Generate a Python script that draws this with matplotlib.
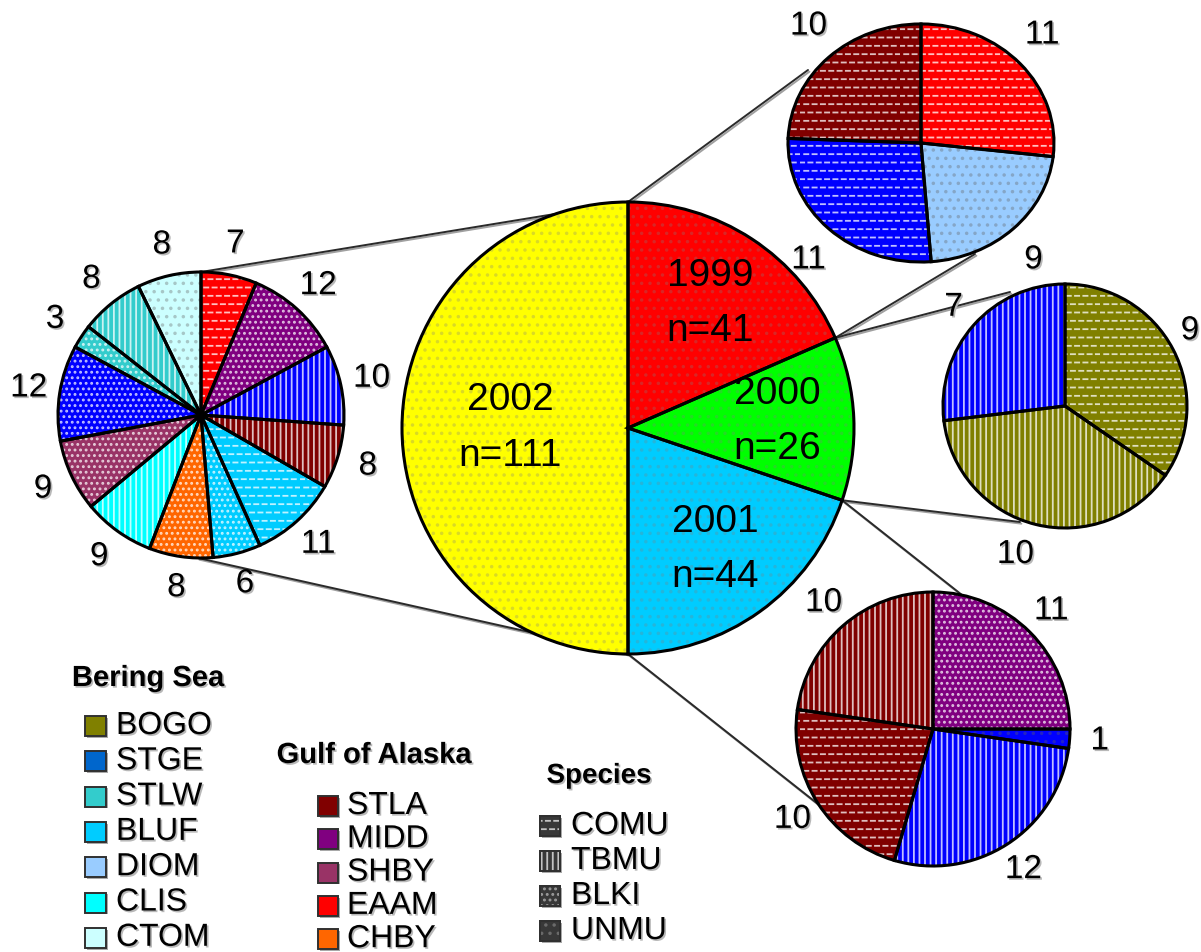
import numpy as np
import matplotlib
matplotlib.use("Agg")
import matplotlib.pyplot as plt
import matplotlib.patheffects as pe
import matplotlib.colors as mcolors
import matplotlib.hatch as mhatch
from matplotlib.patches import Rectangle
from matplotlib.transforms import Affine2D
from matplotlib.path import Path

# ------------------------------------------------------------------ data
years = ['1999', '2000', '2001', '2002']
year_n = [41, 26, 44, 111]

sites_1999 = ['EAAM', 'DIOM', 'STGE', 'STLA']
species_1999 = ['COMU', 'UNMU', 'COMU', 'COMU']
n_1999 = [11, 9, 11, 10]

sites_2000 = ['BOGO', 'BOGO', 'STGE']
species_2000 = ['COMU', 'TBMU', 'TBMU']
n_2000 = [9, 10, 7]

sites_2001 = ['MIDD', 'STGE', 'STGE', 'STLA', 'STLA']
species_2001 = ['BLKI', 'UNMU', 'TBMU', 'COMU', 'TBMU']
n_2001 = [11, 1, 12, 10, 10]

sites_2002 = ['EAAM', 'MIDD', 'STGE', 'STLA', 'BLUF', 'BLUF', 'CHBY',
              'CLIS', 'SHBY', 'STGE', 'STLW', 'STLW', 'CTOM']
species_2002 = ['COMU', 'BLKI', 'TBMU', 'TBMU', 'COMU', 'BLKI', 'BLKI',
                'TBMU', 'BLKI', 'BLKI', 'BLKI', 'TBMU', 'UNMU']
n_2002 = [7, 12, 10, 8, 11, 6, 8, 9, 9, 12, 3, 8, 8]

bering_sites = ['BOGO', 'STGE', 'STLW', 'BLUF', 'DIOM', 'CLIS', 'CTOM']
gulf_sites = ['STLA', 'MIDD', 'SHBY', 'EAAM', 'CHBY']
species_list = ['COMU', 'TBMU', 'BLKI', 'UNMU']

# ------------------------------------------------------------------ style
W, H = 1201, 952
FONT = ['Liberation Sans', 'DejaVu Sans']
plt.rcParams['font.family'] = FONT
plt.rcParams['hatch.linewidth'] = 1.3

year_colors = ['#FF0000', '#00FF00', '#00CCFF', '#FFFF00']
legend_color = {
    'BOGO': '#808000', 'STGE': '#0066CC', 'STLW': '#33CCCC', 'BLUF': '#00CCFF',
    'DIOM': '#99CCFF', 'CLIS': '#00FFFF', 'CTOM': '#CCFFFF',
    'STLA': '#800000', 'MIDD': '#800080', 'SHBY': '#993366', 'EAAM': '#FF0000',
    'CHBY': '#FF6600'}
pie_color = dict(legend_color, STGE='#0000FF')
species_hatch = {'COMU': '**', 'TBMU': '|||', 'BLKI': '...', 'UNMU': '..'}


# custom hatch: rows of short dashes (used for COMU), mapped on '*'
class DashRows(mhatch.HatchPatternBase):
    def __init__(self, hatch, density):
        self.rows = int(hatch.count('*') * density)
        self.cols = self.rows
        self.num_vertices = self.rows * self.cols * 2

    def set_vertices_and_codes(self, vertices, codes):
        k = 0
        for r in range(self.rows):
            y = (r + 0.5) / self.rows
            off = 0.5 if r % 2 else 0.0
            for c in range(self.cols):
                x0 = (c + off) / self.cols
                x1 = x0 + 0.5 / self.cols
                vertices[k] = (x0, y)
                vertices[k + 1] = (x1, y)
                codes[k] = Path.MOVETO
                codes[k + 1] = Path.LINETO
                k += 2


try:
    mhatch._hatch_types = [t for t in mhatch._hatch_types
                           if t is not mhatch.Stars] + [DashRows]
except Exception:
    species_hatch['COMU'] = '--'


def mix(c, other, t):
    a = np.array(mcolors.to_rgb(c))
    b = np.array(mcolors.to_rgb(other))
    return tuple(a * (1 - t) + b * t)


def Y(yp):
    return H - yp


shadow = [pe.SimplePatchShadow(offset=(1.2, -1.2), shadow_rgbFace='#b8b8b8',
                               alpha=1.0), pe.Normal()]

fig = plt.figure(figsize=(W / 100, H / 100), dpi=100)
ax = fig.add_axes([0, 0, 1, 1])


def draw_pie(values, faces, hatches, hcolors, center, radius, yscale=1.0,
             labels=None, labeldist=1.22, fontsize=24):
    common = dict(startangle=90, counterclock=False, center=center,
                  radius=radius)
    w1, _ = ax.pie(values, colors=faces,
                   wedgeprops=dict(linewidth=0, edgecolor='none'), **common)
    w2, _ = ax.pie(values, wedgeprops=dict(facecolor='none', linewidth=0),
                   **common)
    for w, h, hc in zip(w2, hatches, hcolors):
        w.set_hatch(h)
        w.set_edgecolor(hc)
        w.set_linewidth(0)
    w3, texts = ax.pie(values, labels=labels, labeldistance=labeldist,
                       wedgeprops=dict(facecolor='none', edgecolor='black',
                                       linewidth=2.2),
                       textprops=dict(fontsize=fontsize, family=FONT),
                       **common)
    for t in texts:
        t.set_horizontalalignment('center')
        t.set_verticalalignment('center')
        t.set_path_effects(shadow)
    if yscale != 1.0:
        cx, cy = center
        tr = Affine2D().translate(-cx, -cy).scale(1, yscale).translate(cx, cy)
        for w in list(w1) + list(w2) + list(w3):
            w.set_transform(tr + ax.transData)
    for w in w1:
        w.set_zorder(2)
    for w in w2:
        w.set_zorder(2.1)
    for w in w3:
        w.set_zorder(2.2)
    return texts


def sub_pie(sites, species, values, center, radius, yscale=1.0):
    faces = [pie_color[s] for s in sites]
    hatches = [species_hatch[s] for s in species]
    hcols = [mix(f, '#606060', 0.35) if sp == 'UNMU' else mix(f, 'white', 0.75)
             for f, sp in zip(faces, species)]
    return draw_pie(values, faces, hatches, hcols, center, radius, yscale,
                    labels=[str(v) for v in values], labeldist=1.22,
                    fontsize=24)


# ------------------------------------------------------------------ main pie
MC, MR = (628, Y(428)), 226
main_labels = [f'{y}\nn={n}' for y, n in zip(years, year_n)]
mtexts = draw_pie(year_n, year_colors, ['..'] * 4,
                  [mix(c, '#808080', 0.3) for c in year_colors],
                  MC, MR, labels=main_labels, labeldist=0.66, fontsize=28)
for t in mtexts:
    t.set_linespacing(1.68)
    t.set_path_effects([])
x, y = mtexts[3].get_position()
mtexts[3].set_position((MC[0] + (x - MC[0]) * 0.52 / 0.66,
                        MC[1] + (y - MC[1]) * 0.52 / 0.66))

# ------------------------------------------------------------------ year pies
C99, R99 = (921, Y(143)), 133
C00, R00 = (1065, Y(406)), 122
C01, R01 = (933, Y(729)), 137
C02, R02 = (201, Y(415)), 143
sub_pie(sites_1999, species_1999, n_1999, C99, R99, yscale=0.895)
t00 = sub_pie(sites_2000, species_2000, n_2000, C00, R00)
sub_pie(sites_2001, species_2001, n_2001, C01, R01)
sub_pie(sites_2002, species_2002, n_2002, C02, R02)
# label of the first 2000 slice sits at the very right edge
px, py = t00[0].get_position()
t00[0].set_position((1190, py + 6))
px, py = t00[1].get_position()
t00[1].set_position((px - 14, py - 4))

# ------------------------------------------------------------------ connectors
cum = np.cumsum([0] + year_n) / sum(year_n)
ang = np.deg2rad(90 - 360 * cum)
bpts = [(MC[0] + MR * np.cos(a), MC[1] + MR * np.sin(a)) for a in ang]
top, rg, gb, bot = bpts[0], bpts[1], bpts[2], bpts[3]
connectors = [
    ((201, Y(272)), top), ((198, Y(558)), bot),
    (top, (808, Y(70))), (rg, (975, Y(254))),
    (rg, (1010, Y(292))), (gb, (1020, Y(522))),
    (gb, (962, Y(595))), (bot, (823, Y(808))),
]
for p, q in connectors:
    ax.plot([p[0], q[0]], [p[1], q[1]], color='#2a2a2a', lw=1.4, zorder=1,
            solid_capstyle='round',
            path_effects=[pe.SimpleLineShadow(offset=(1, -1.2),
                                              shadow_color='#a0a0a0', alpha=1),
                          pe.Normal()])

# ------------------------------------------------------------------ legends
def legend_block(title, title_xy, title_size, names, colors, hatches, hcolors,
                 sq_x, sq_w, row0, step, text_x):
    ax.text(title_xy[0], Y(title_xy[1]), title, fontsize=title_size,
            fontweight='bold', ha='center', va='center', path_effects=shadow)
    for i, nm in enumerate(names):
        ry = row0 + i * step
        r = Rectangle((sq_x, Y(ry + 10)), sq_w, 20, facecolor=colors[i],
                      edgecolor='#303030', lw=1.4, zorder=3,
                      path_effects=[pe.SimplePatchShadow(offset=(1.3, -1.3),
                                                         shadow_rgbFace='#a8a8a8',
                                                         alpha=1), pe.Normal()])
        ax.add_patch(r)
        if hatches[i]:
            rh = Rectangle((sq_x, Y(ry + 10)), sq_w, 20, facecolor='none',
                           edgecolor=hcolors[i], lw=0, hatch=hatches[i],
                           zorder=3.1)
            ax.add_patch(rh)
            ax.add_patch(Rectangle((sq_x, Y(ry + 10)), sq_w, 20,
                                   facecolor='none', edgecolor='#303030',
                                   lw=1.4, zorder=3.2))
        ax.text(text_x, Y(ry), nm, fontsize=23, ha='left', va='center',
                path_effects=shadow)


legend_block('Bering Sea', (148, 678), 21, bering_sites,
             [legend_color[s] for s in bering_sites],
             [None] * len(bering_sites), [None] * len(bering_sites),
             85, 21, 726, 35.3, 116)
legend_block('Gulf of Alaska', (374, 755), 21, gulf_sites,
             [legend_color[s] for s in gulf_sites],
             [None] * len(gulf_sites), [None] * len(gulf_sites),
             318, 20, 806, 33.3, 347)
sp_face = '#383838'
legend_block('Species', (599, 776), 20, species_list, [sp_face] * 4,
             [species_hatch[s] for s in species_list],
             [mix(sp_face, 'white', 0.7), mix(sp_face, 'white', 0.7),
              mix(sp_face, 'white', 0.5), mix(sp_face, 'white', 0.25)],
             540, 20, 826, 35.0, 571)

ax.set_xlim(0, W)
ax.set_ylim(0, H)
ax.set_aspect('auto')
ax.axis('off')
fig.savefig('out.png', dpi=100)
